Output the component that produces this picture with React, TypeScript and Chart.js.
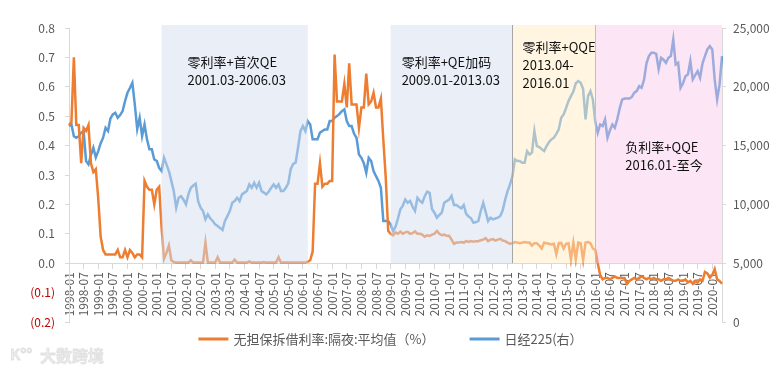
import React, { useEffect, useRef } from 'react';
import { Chart, registerables } from 'chart.js';

Chart.register(...registerables);

const FONT = '"Noto Sans CJK SC", "Noto Sans", sans-serif';

// Monthly categories 1998-01 .. 2020-05
const months: string[] = [];
for (let y = 1998; y <= 2020; y++) {
  for (let m = 1; m <= 12; m++) {
    if (y === 2020 && m > 5) break;
    months.push(`${y}-${m < 10 ? '0' + m : m}`);
  }
}

const seriesNames = ['无担保拆借利率:隔夜:平均值（%）', '日经225(右）'];

// Uncollateralized overnight call rate, monthly average (%)
const callRate: number[] = [
  0.47, 0.48, 0.70, 0.47, 0.47, 0.34, 0.46, 0.45, 0.47, 0.34, 0.31, 0.32, // 1998
  0.22, 0.09, 0.045, 0.03, 0.03, 0.03, 0.03, 0.03, 0.045, 0.02, 0.02, 0.045, // 1999
  0.02, 0.045, 0.035, 0.02, 0.03, 0.03, 0.02, 0.28, 0.26, 0.25, 0.25, 0.20, // 2000
  0.25, 0.26, 0.12, 0.015, 0.035, 0.06, 0.01, 0.004, 0.002, 0.002, 0.002, 0.002, // 2001
  0.002, 0.002, 0.01, 0.002, 0.002, 0.002, 0.002, 0.002, 0.07, 0.002, 0.002, 0.002, // 2002
  0.002, 0.02, 0.002, 0.002, 0.002, 0.002, 0.002, 0.002, 0.012, 0.002, 0.002, 0.002, // 2003
  0.002, 0.002, 0.006, 0.002, 0.002, 0.002, 0.002, 0.002, 0.004, 0.002, 0.002, 0.002, // 2004
  0.002, 0.002, 0.02, 0.002, 0.002, 0.002, 0.002, 0.002, 0.002, 0.002, 0.002, 0.002, // 2005
  0.002, 0.002, 0.005, 0.01, 0.04, 0.27, 0.27, 0.34, 0.26, 0.27, 0.27, 0.28, // 2006
  0.28, 0.71, 0.55, 0.55, 0.55, 0.61, 0.53, 0.68, 0.54, 0.54, 0.54, 0.46, // 2007
  0.53, 0.53, 0.645, 0.54, 0.55, 0.58, 0.53, 0.53, 0.56, 0.42, 0.29, 0.11, // 2008
  0.10, 0.095, 0.105, 0.10, 0.107, 0.10, 0.105, 0.107, 0.10, 0.102, 0.108, 0.10, // 2009
  0.10, 0.097, 0.09, 0.095, 0.093, 0.097, 0.10, 0.11, 0.10, 0.095, 0.097, 0.093, // 2010
  0.093, 0.08, 0.066, 0.07, 0.07, 0.072, 0.07, 0.075, 0.072, 0.075, 0.073, 0.075, // 2011
  0.075, 0.078, 0.08, 0.085, 0.075, 0.08, 0.082, 0.077, 0.08, 0.083, 0.077, 0.075, // 2012
  0.07, 0.066, 0.068, 0.072, 0.07, 0.068, 0.07, 0.072, 0.07, 0.07, 0.06, 0.068, // 2013
  0.068, 0.06, 0.05, 0.07, 0.068, 0.066, 0.064, 0.066, 0.03, 0.068, 0.069, 0.05, // 2014
  0.066, 0.068, 0.013, 0.07, 0.013, 0.07, 0.068, 0.011, 0.07, 0.072, 0.068, 0.05, // 2015
  0.045, 0.0, -0.04, -0.055, -0.05, -0.05, -0.055, -0.05, -0.045, -0.05, -0.05, -0.05, // 2016
  -0.05, -0.07, -0.06, -0.055, -0.05, -0.055, -0.05, -0.045, -0.05, -0.055, -0.05, -0.055, // 2017
  -0.05, -0.055, -0.055, -0.06, -0.055, -0.055, -0.05, -0.055, -0.06, -0.06, -0.055, -0.06, // 2018
  -0.06, -0.055, -0.065, -0.06, -0.07, -0.06, -0.065, -0.055, -0.06, -0.03, -0.035, -0.05, // 2019
  -0.04, -0.02, -0.055, -0.06, -0.07, // 2020
];

// Nikkei 225, monthly
const nikkei: number[] = [
  16660, 16800, 15800, 15670, 15800, 16100, 16235, 13685, 13400, 14200, 14815, 14000, // 1998
  14530, 15200, 15670, 16515, 16235, 17300, 17650, 17790, 17370, 17600, 17935, 18785, // 1999
  19490, 19900, 20340, 18500, 16400, 17370, 15810, 16800, 15530, 14680, 14680, 13820, // 2000
  13700, 13100, 12835, 13965, 13400, 12835, 12000, 11135, 9715, 10565, 10700, 10400, // 2001
  10000, 10850, 11415, 11600, 11750, 10280, 9715, 9430, 8730, 9150, 8800, 8590, // 2002
  8300, 8165, 8000, 7820, 8590, 9000, 9430, 10140, 10280, 10565, 10280, 10850, // 2003
  11000, 11135, 11700, 11415, 11840, 11415, 11840, 11135, 11000, 10850, 11100, 11415, // 2004
  11700, 11415, 11700, 11135, 11135, 11415, 11800, 13000, 13450, 13545, 14815, 16235, // 2005
  16660, 16235, 17085, 16800, 15530, 15530, 15530, 16100, 16235, 16375, 16375, 17085, // 2006
  17085, 17370, 17510, 17700, 17935, 18080, 17085, 16660, 16660, 16000, 15670, 14250, // 2007
  13965, 13500, 12690, 13965, 13685, 12835, 12400, 12000, 11415, 8585, 8585, 8585, // 2008
  8300, 7735, 8100, 8800, 9580, 9900, 10420, 10140, 10300, 9800, 9440, 10560, // 2009
  10300, 10140, 10700, 11080, 10990, 9580, 9300, 8870, 9100, 9300, 10140, 10280, // 2010
  10400, 10730, 9950, 9950, 9800, 9660, 9950, 9200, 8960, 8820, 8440, 8500, // 2011
  8585, 9440, 10140, 9370, 8585, 8870, 8730, 8800, 8870, 9010, 9500, 10400, // 2012
  11135, 11700, 12400, 13830, 13685, 13685, 13545, 13545, 14530, 14250, 14400, 16235, // 2013
  14960, 14870, 14700, 14530, 14960, 15300, 15530, 15670, 16000, 16375, 17370, 17650, // 2014
  18200, 18785, 19210, 19600, 20300, 20485, 20340, 19800, 17230, 19210, 19635, 18920, // 2015
  17000, 16090, 16800, 16660, 17230, 15670, 16300, 16800, 16515, 17230, 18160, 18900, // 2016
  19000, 19000, 19000, 19140, 19500, 19635, 20060, 19920, 20600, 22000, 22610, 22890, // 2017
  22890, 22800, 21500, 22470, 22300, 22040, 22470, 22610, 24030, 21900, 22040, 19920, // 2018
  20300, 20900, 21050, 22190, 20630, 21000, 21340, 20770, 22000, 22610, 23180, 23460, // 2019
  23180, 20630, 18930, 20200, 22600, // 2020
];

// Policy regimes (shaded bands)
const regimeStart = ['2001-03', '2009-01', '2013-03', '2016-01'];
const regimeEnd: (string | null)[] = ['2006-03', '2013-03', '2016-01', null];
const regimeText = [
  ['零利率+首次QE', '2001.03-2006.03'],
  ['零利率+QE加码', '2009.01-2013.03'],
  ['零利率+QQE', '2013.04-', '2016.01'],
  ['负利率+QQE', '2016.01-至今'],
];
const regimeTextLevel = [0.683, 0.683, 0.736, 0.394];

const regimeFill = [
  'rgba(211,221,239,0.5)',
  'rgba(211,221,239,0.5)',
  'rgba(255,235,195,0.5)',
  'rgba(248,192,232,0.42)',
];
const regimeEdge = [null, null, '#A6A6A6', '#C9B3E6'];
const regimeTextDx = [26, 11, 10, 30];

const regimePlugin = {
  id: 'regimes',
  afterDatasetsDraw(chart: any) {
    const { ctx, chartArea, scales } = chart;
    const xs = scales.x;
    const ys = scales.y;
    const top = chartArea.top - 3;
    const bottom = ys.getPixelForValue(0);
    ctx.save();
    regimeStart.forEach((s, i) => {
      const x0 = xs.getPixelForValue(months.indexOf(s));
      const e = regimeEnd[i];
      const x1 = e ? xs.getPixelForValue(months.indexOf(e)) : chartArea.right;
      ctx.fillStyle = regimeFill[i];
      ctx.fillRect(x0, top, x1 - x0, bottom - top);
      const edge = regimeEdge[i];
      if (edge) {
        ctx.strokeStyle = edge;
        ctx.lineWidth = 1;
        ctx.beginPath();
        const xe = Math.round(x0) + 0.5;
        ctx.moveTo(xe, top);
        ctx.lineTo(xe, bottom);
        ctx.stroke();
      }
    });
    ctx.fillStyle = '#111111';
    ctx.font = `13px ${FONT}`;
    ctx.textBaseline = 'middle';
    ctx.textAlign = 'left';
    regimeStart.forEach((s, i) => {
      const x0 = xs.getPixelForValue(months.indexOf(s));
      const y0 = ys.getPixelForValue(regimeTextLevel[i]);
      regimeText[i].forEach((t, k) => {
        ctx.fillText(t, x0 + regimeTextDx[i], y0 + k * 18);
      });
    });
    ctx.restore();
  },
  afterDraw(chart: any) {
    const { ctx, width } = chart;
    ctx.save();
    // legend
    ctx.font = `13px ${FONT}`;
    ctx.textBaseline = 'middle';
    ctx.textAlign = 'left';
    const lineW = 30, gapText = 5, gapItem = 35;
    const items = chart.data.datasets.map((d: any) => ({
      text: d.label as string,
      color: d.borderColor as string,
      w: ctx.measureText(d.label).width,
    }));
    let total = 0;
    items.forEach((it: any, i: number) => {
      total += lineW + gapText + it.w + (i > 0 ? gapItem : 0);
    });
    let x = (width - total) / 2;
    const y = 339;
    items.forEach((it: any) => {
      ctx.strokeStyle = it.color;
      ctx.lineWidth = 3;
      ctx.beginPath();
      ctx.moveTo(x, y);
      ctx.lineTo(x + lineW, y);
      ctx.stroke();
      ctx.fillStyle = '#595959';
      ctx.fillText(it.text, x + lineW + gapText, y);
      x += lineW + gapText + it.w + gapItem;
    });
    // watermark
    ctx.fillStyle = 'rgba(215,215,215,0.45)';
    ctx.strokeStyle = 'rgba(200,200,200,0.45)';
    ctx.lineWidth = 0.8;
    ctx.font = `bold 16px ${FONT}`;
    ctx.fillText('大数跨境', 40, 356);
    ctx.strokeText('大数跨境', 40, 356);
    ctx.font = `bold 15px ${FONT}`;
    ctx.fillText('K°°', 10, 354);
    ctx.strokeText('K°°', 10, 354);
    ctx.restore();
  },
};

export default function App() {
  const ref = useRef<HTMLCanvasElement | null>(null);

  useEffect(() => {
    if (!ref.current) return;
    const tickFont = { family: FONT, size: 12 };
    const chart = new Chart(ref.current, {
      type: 'line',
      data: {
        labels: months,
        datasets: [
          {
            label: seriesNames[0],
            data: callRate,
            borderColor: '#ED7D31',
            backgroundColor: '#ED7D31',
            borderWidth: 2.5,
            pointRadius: 0,
            tension: 0,
            yAxisID: 'y',
          },
          {
            label: seriesNames[1],
            data: nikkei,
            borderColor: '#5B9BD5',
            backgroundColor: '#5B9BD5',
            borderWidth: 2.5,
            pointRadius: 0,
            tension: 0,
            yAxisID: 'y1',
          },
        ],
      },
      options: {
        animation: false,
        responsive: true,
        maintainAspectRatio: false,
        layout: { padding: { top: 28, bottom: 48, left: 0, right: 0 } },
        plugins: {
          legend: { display: false },
          tooltip: { enabled: false },
        },
        scales: {
          x: {
            type: 'category',
            position: { y: 0 } as any,
            offset: false,
            grid: {
              drawOnChartArea: false,
              drawTicks: true,
              tickLength: 5,
              color: '#D9D9D9',
            },
            border: { display: true, color: '#D9D9D9' },
            ticks: {
              autoSkip: false,
              minRotation: 90,
              maxRotation: 90,
              padding: 4,
              color: '#595959',
              font: tickFont,
              callback: (_v: any, i: number) => (i % 6 === 0 ? months[i] : null),
            },
          },
          y: {
            position: 'left',
            min: -0.2,
            max: 0.8,
            afterFit: (s: any) => {
              s.width = 69;
            },
            grid: {
              drawOnChartArea: false,
              drawTicks: true,
              tickLength: 4,
              color: '#D9D9D9',
            },
            border: { display: true, color: '#D9D9D9' },
            ticks: {
              stepSize: 0.1,
              padding: 10,
              font: tickFont,
              color: (c: any) => (c.tick && c.tick.value < -1e-9 ? '#C00000' : '#595959'),
              callback: (v: any) => {
                const n = Math.round(Number(v) * 10) / 10;
                return n < 0 ? `(${Math.abs(n).toFixed(1)})` : n.toFixed(1);
              },
            },
          },
          y1: {
            position: 'right',
            min: 0,
            max: 25000,
            afterFit: (s: any) => {
              s.width = 59;
            },
            grid: {
              drawOnChartArea: false,
              drawTicks: true,
              tickLength: 4,
              color: '#D9D9D9',
            },
            border: { display: true, color: '#D9D9D9' },
            ticks: {
              stepSize: 5000,
              padding: 7,
              font: tickFont,
              color: '#595959',
              callback: (v: any) => Number(v).toLocaleString('en-US'),
            },
          },
        },
      },
      plugins: [regimePlugin],
    });
    return () => chart.destroy();
  }, []);

  return (
    <div style={{ position: 'fixed', left: 0, top: 0, width: 781, height: 370, background: '#fff' }}>
      <canvas ref={ref} />
    </div>
  );
}
